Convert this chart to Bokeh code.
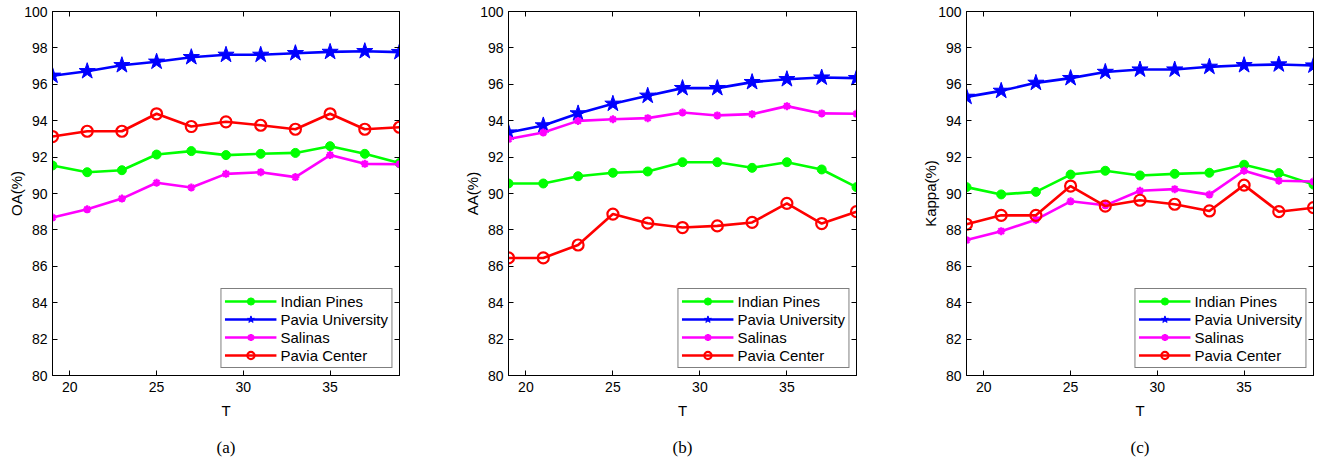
from bokeh.plotting import figure
from bokeh.models import Range1d, LinearAxis, FixedTicker, Legend, LegendItem
from bokeh.layouts import row
from bokeh.embed import file_html
from bokeh.resources import INLINE

T = [19, 21, 23, 25, 27, 29, 31, 33, 35, 37, 39]
series_names = ["Indian Pines", "Pavia University", "Salinas", "Pavia Center"]
x_ticks = [20, 25, 30, 35]
y_ticks = [80, 82, 84, 86, 88, 90, 92, 94, 96, 98, 100]

oa_indian = [91.54, 91.17, 91.28, 92.14, 92.33, 92.11, 92.18, 92.23, 92.60, 92.18, 91.67]
oa_paviau = [96.47, 96.72, 97.05, 97.24, 97.49, 97.62, 97.62, 97.71, 97.78, 97.82, 97.77]
oa_salinas = [88.68, 89.13, 89.72, 90.59, 90.33, 91.08, 91.17, 90.90, 92.11, 91.63, 91.61]
oa_paviac = [93.13, 93.42, 93.42, 94.38, 93.68, 93.94, 93.75, 93.53, 94.38, 93.53, 93.64]

aa_indian = [90.55, 90.55, 90.95, 91.14, 91.21, 91.72, 91.72, 91.41, 91.72, 91.32, 90.35]
aa_paviau = [93.35, 93.74, 94.40, 94.93, 95.37, 95.79, 95.79, 96.12, 96.28, 96.37, 96.34]
aa_salinas = [92.99, 93.35, 93.99, 94.08, 94.14, 94.45, 94.29, 94.36, 94.80, 94.40, 94.38]
aa_paviac = [86.46, 86.46, 87.17, 88.87, 88.37, 88.13, 88.22, 88.41, 89.46, 88.35, 89.00]

ka_indian = [90.35, 89.95, 90.09, 91.04, 91.25, 90.99, 91.08, 91.14, 91.58, 91.12, 90.49]
ka_paviau = [95.31, 95.64, 96.08, 96.34, 96.68, 96.81, 96.81, 96.96, 97.05, 97.09, 97.03]
ka_salinas = [87.44, 87.93, 88.56, 89.57, 89.35, 90.15, 90.24, 89.94, 91.25, 90.70, 90.66]
ka_paviac = [88.31, 88.80, 88.80, 90.41, 89.31, 89.63, 89.41, 89.04, 90.46, 89.00, 89.22]

FONT = "Liberation Sans"


def style_axis(ax, labels=True):
    ax.axis_line_color = "black"
    ax.axis_line_width = 1
    ax.major_tick_in = 5
    ax.major_tick_out = 0
    ax.major_tick_line_color = "black"
    ax.minor_tick_line_color = None
    ax.major_label_text_font = FONT
    ax.major_label_text_color = "black"
    if labels:
        ax.major_label_text_font_size = "14px"
    else:
        ax.major_label_text_font_size = "1px"
        ax.major_label_text_color = None
        ax.major_label_standoff = 0


def make_panel(width, left, right, ylabel, caption, data):
    p = figure(width=width, height=462, x_range=Range1d(19, 39), y_range=Range1d(80, 100),
               output_backend="svg", toolbar_location=None,
               min_border_left=left, min_border_right=right,
               min_border_top=11, min_border_bottom=87)
    p.background_fill_color = "white"
    p.border_fill_color = "white"
    p.outline_line_color = "black"
    p.grid.visible = False

    xa = p.xaxis[0]
    ya = p.yaxis[0]
    xa.ticker = FixedTicker(ticks=x_ticks)
    ya.ticker = FixedTicker(ticks=y_ticks)
    style_axis(xa)
    style_axis(ya)
    xa.major_label_standoff = 6
    ya.major_label_standoff = 5
    xa.axis_label = "T"
    ya.axis_label = ylabel
    for ax in (xa, ya):
        ax.axis_label_text_font = FONT
        ax.axis_label_text_font_size = "15px"
        ax.axis_label_text_font_style = "normal"
        ax.axis_label_text_color = "black"
    xa.axis_label_standoff = 7
    ya.axis_label_standoff = -4

    ra = LinearAxis(ticker=FixedTicker(ticks=y_ticks))
    style_axis(ra, labels=False)
    p.add_layout(ra, "right")
    ta = LinearAxis(ticker=FixedTicker(ticks=x_ticks))
    style_axis(ta, labels=False)
    p.add_layout(ta, "above")

    # caption "(a)" etc. as the label of a bare axis below the main one
    ca = LinearAxis(ticker=FixedTicker(ticks=[]))
    ca.axis_line_color = None
    ca.major_tick_line_color = None
    ca.minor_tick_line_color = None
    ca.major_label_text_font_size = "1px"
    ca.major_label_text_color = None
    ca.major_label_standoff = 0
    ca.axis_label = caption
    ca.axis_label_text_font = "Liberation Serif"
    ca.axis_label_text_font_size = "17px"
    ca.axis_label_text_font_style = "normal"
    ca.axis_label_text_color = "black"
    ca.axis_label_standoff = 16
    p.add_layout(ca, "below")

    colors = ["#00ff00", "#0000ff", "#ff00ff", "#ff0000"]
    items = []
    for i, (name, ys) in enumerate(zip(series_names, data)):
        c = colors[i]
        ln = p.line(T, ys, line_color=c, line_width=2.6)
        if i == 0:
            mk = p.scatter(T, ys, marker="circle", size=9, fill_color=c, line_color=c)
        elif i == 1:
            mk = p.scatter(T, ys, marker="star", size=17, fill_color=c, line_color=c, line_width=1)
        elif i == 2:
            mk = p.scatter(T, ys, marker="asterisk", size=8, line_color=c, line_width=2.2)
        else:
            mk = p.scatter(T, ys, marker="circle", size=11, fill_color=None, line_color=c, line_width=2.2)
        items.append(LegendItem(label=name, renderers=[ln, mk]))

    leg = Legend(items=items, location="bottom_right")
    leg.margin = 7
    leg.padding = 3
    leg.spacing = 0
    leg.label_height = 18
    leg.glyph_height = 18
    leg.glyph_width = 52
    leg.label_standoff = 4
    leg.label_text_font = FONT
    leg.label_text_font_size = "15px"
    leg.label_text_color = "black"
    leg.border_line_color = "black"
    leg.border_line_width = 1
    leg.background_fill_color = "white"
    p.add_layout(leg, "center")
    return p


pa = make_panel(452, 52, 53, "OA(%)", "(a)", [oa_indian, oa_paviau, oa_salinas, oa_paviac])
pb = make_panel(460, 56, 56, "AA(%)", "(b)", [aa_indian, aa_paviau, aa_salinas, aa_paviac])
pc = make_panel(416, 54, 15, "Kappa(%)", "(c)", [ka_indian, ka_paviau, ka_salinas, ka_paviac])

layout = row(pa, pb, pc)
open("out.html", "w").write(file_html(layout, INLINE))
